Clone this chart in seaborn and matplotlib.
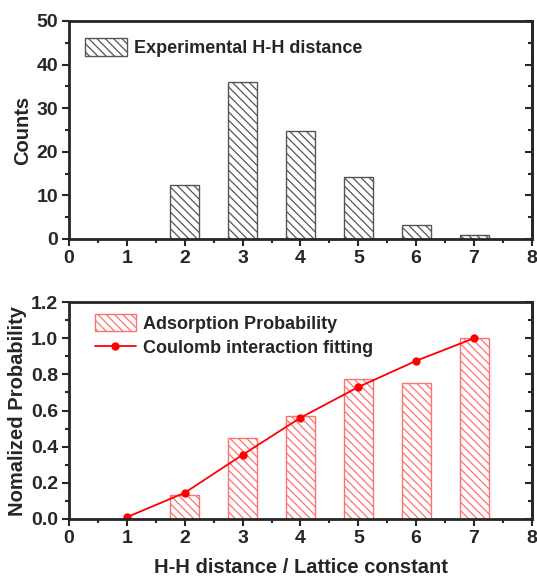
import matplotlib
matplotlib.use("Agg")
import matplotlib.pyplot as plt
import seaborn as sns
import pandas as pd
from matplotlib.patches import Patch
from matplotlib.lines import Line2D
from matplotlib.ticker import MultipleLocator

# ---- data ----
exp_x = [2, 3, 4, 5, 6, 7]
exp_counts = [12.3, 36.1, 24.8, 14.3, 3.1, 0.8]

prob_x = [2, 3, 4, 5, 6, 7]
prob_vals = [0.13, 0.45, 0.57, 0.775, 0.755, 1.0]

fit_x = [1, 2, 3, 4, 5, 6, 7]
fit_vals = [0.01, 0.145, 0.355, 0.56, 0.73, 0.875, 1.0]

x_ticks = [0, 1, 2, 3, 4, 5, 6, 7, 8]

sns.set_theme(style="ticks")
plt.rcParams['font.family'] = ['Liberation Sans', 'DejaVu Sans']
plt.rcParams['font.weight'] = 'bold'
plt.rcParams['hatch.linewidth'] = 0.9

fig = plt.figure(figsize=(5.37, 5.8), dpi=100)
ax1 = fig.add_axes([0.1285, 0.588, 0.862, 0.3759])
ax2 = fig.add_axes([0.1285, 0.1052, 0.862, 0.374])

df1 = pd.DataFrame({"x": exp_x, "y": exp_counts})
df2 = pd.DataFrame({"x": prob_x, "y": prob_vals})
df3 = pd.DataFrame({"x": fit_x, "y": fit_vals})

gray = "#555555"
red_edge = "#ff7070"
red = "#ff0000"

sns.barplot(data=df1, x="x", y="y", native_scale=True, width=0.5, color="white",
            edgecolor=gray, linewidth=1.0, ax=ax1, errorbar=None, saturation=1)
for p in ax1.patches:
    p.set_hatch('\\\\\\\\')
    p.set_facecolor('white')
    p.set_edgecolor(gray)

sns.barplot(data=df2, x="x", y="y", native_scale=True, width=0.5, color="white",
            edgecolor=red_edge, linewidth=1.0, ax=ax2, errorbar=None, saturation=1)
for p in ax2.patches:
    p.set_hatch('\\\\\\\\')
    p.set_facecolor('white')
    p.set_edgecolor(red_edge)

sns.lineplot(data=df3, x="x", y="y", ax=ax2, color=red, marker='o', markersize=6,
             markeredgewidth=0, linewidth=1.3)

tick_fs = 14
label_fs = 14.5
leg_fs = 13
for ax in (ax1, ax2):
    ax.set_xlim(0, 8)
    ax.set_xticks(x_ticks)
    ax.set_xticklabels([str(t) for t in x_ticks])
    ax.xaxis.set_minor_locator(MultipleLocator(0.5))
    ax.tick_params(axis='both', which='major', direction='out', length=5, width=1.5,
                   labelsize=tick_fs, pad=3)
    ax.tick_params(axis='both', which='minor', direction='out', length=3, width=1.5)
    for s in ax.spines.values():
        s.set_linewidth(2)
        s.set_visible(True)
    for lab in ax.get_xticklabels() + ax.get_yticklabels():
        lab.set_fontweight('bold')
    ax.set_xlabel("")

ax1.set_ylim(0, 50)
ax1.set_yticks([0, 10, 20, 30, 40, 50])
ax1.yaxis.set_minor_locator(MultipleLocator(5))
ax1.set_ylabel("Counts", fontsize=label_fs, fontweight='bold', labelpad=3)

ax2.set_ylim(0, 1.2)
y2t = [0.0, 0.2, 0.4, 0.6, 0.8, 1.0, 1.2]
ax2.set_yticks(y2t)
ax2.set_yticklabels([f"{v:.1f}" for v in y2t], fontweight='bold')
ax2.yaxis.set_minor_locator(MultipleLocator(0.1))
ax2.set_ylabel("Nomalized Probability", fontsize=label_fs, fontweight='bold', labelpad=3)
ax2.set_xlabel("H-H distance / Lattice constant", fontsize=label_fs, fontweight='bold', labelpad=8)

# right-side inward ticks (no labels)
for ax, mj, mn in ((ax1, [0, 10, 20, 30, 40, 50], 5), (ax2, y2t, 0.1)):
    sec = ax.secondary_yaxis('right')
    sec.set_yticks(mj)
    sec.yaxis.set_minor_locator(MultipleLocator(mn))
    sec.tick_params(which='major', direction='in', length=5, width=1.5, labelright=False)
    sec.tick_params(which='minor', direction='in', length=3, width=1.5)
    sec.spines['right'].set_linewidth(2)

h1 = [Patch(facecolor='white', edgecolor=gray, hatch='\\\\\\\\', label='Experimental H-H distance')]
ax1.legend(handles=h1, loc='upper left', frameon=False,
           prop={'weight': 'bold', 'size': leg_fs}, handlelength=2.3, handleheight=1.1,
           handletextpad=0.4, bbox_to_anchor=(0.0, 0.995))

h2 = [Patch(facecolor='white', edgecolor=red_edge, hatch='\\\\\\\\', label='Adsorption Probability'),
      Line2D([0], [0], color=red, marker='o', markersize=6, markeredgewidth=0, lw=1.3,
             label='Coulomb interaction fitting')]
ax2.legend(handles=h2, loc='upper left', frameon=False,
           prop={'weight': 'bold', 'size': leg_fs}, handlelength=2.3, handleheight=1.1,
           handletextpad=0.4, bbox_to_anchor=(0.02, 1.02), labelspacing=0.3)

fig.savefig("out.png", dpi=100)
